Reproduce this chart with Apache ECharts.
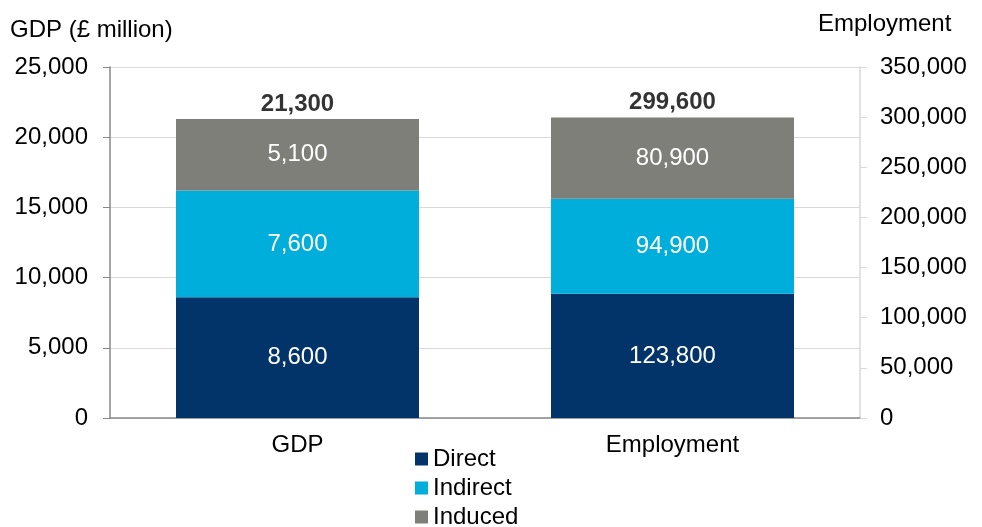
<!DOCTYPE html>
<html>
<head>
<meta charset="utf-8">
<script src="https://cdn.jsdelivr.net/npm/echarts@6/dist/echarts.min.js"></script>
<style>
html,body{margin:0;padding:0;background:#fff;}
#chart{width:982px;height:527px;}
</style>
</head>
<body>
<div id="chart"></div>
<script>
// Economic contribution: GDP (left axis, £ million) and employment (right axis, jobs)
const categories = ['GDP', 'Employment'];
const components = ['Direct', 'Indirect', 'Induced'];
const gdpValues = [8600, 7600, 5100];          // Direct, Indirect, Induced
const employmentValues = [123800, 94900, 80900]; // Direct, Indirect, Induced
const gdpTotal = 21300;
const employmentTotal = 299600;
const gdpTicks = { min: 0, max: 25000, interval: 5000 };
const employmentTicks = { min: 0, max: 350000, interval: 50000 };

const colors = { Direct: '#02346a', Indirect: '#00aedb', Induced: '#7f7f79' };
const FONT = 'Liberation Sans, Arial, sans-serif';
const FS = 24;
const fmt = v => Number(v).toLocaleString('en-GB');

const series = [];
components.forEach((name, i) => {
  // GDP column, measured on the left axis
  series.push({
    name, type: 'bar', stack: 'gdp', yAxisIndex: 0,
    barWidth: 243, barGap: '-100%',
    itemStyle: { color: colors[name] },
    label: { show: true, position: 'inside', color: '#fff', fontSize: FS, fontFamily: FONT,
             formatter: p => fmt(p.value) },
    data: [gdpValues[i], '-']
  });
  // Employment column, measured on the right axis
  series.push({
    name, type: 'bar', stack: 'emp', yAxisIndex: 1,
    barWidth: 243, barGap: '-100%',
    itemStyle: { color: colors[name] },
    label: { show: true, position: 'inside', color: '#fff', fontSize: FS, fontFamily: FONT,
             formatter: p => fmt(p.value) },
    data: ['-', employmentValues[i]]
  });
});
// Totals above each column
const totalLabel = { show: true, position: 'top', distance: 3, color: '#000', fontSize: FS,
                     fontWeight: 'bold', fontFamily: FONT, formatter: p => fmt(p.value[1]) };
series.push({ type: 'scatter', yAxisIndex: 0, symbolSize: 0, silent: true,
              label: totalLabel, data: [[categories[0], gdpTotal]] });
series.push({ type: 'scatter', yAxisIndex: 1, symbolSize: 0, silent: true,
              label: totalLabel, data: [[categories[1], employmentTotal]] });

const chart = echarts.init(document.getElementById('chart'));
chart.setOption({
  animation: false,
  textStyle: { fontFamily: FONT },
  title: [
    { text: 'GDP (£ million)', left: 5, top: 13,
      textStyle: { fontSize: FS, fontWeight: 'normal', color: '#000', fontFamily: FONT } },
    { text: 'Employment', left: 813, top: 7,
      textStyle: { fontSize: FS, fontWeight: 'normal', color: '#000', fontFamily: FONT } }
  ],
  legend: {
    data: components, orient: 'vertical', left: 415, top: 447, height: 120, padding: 0,
    itemWidth: 13, itemHeight: 13, itemGap: 5, icon: 'rect',
    textStyle: { fontSize: FS, color: '#000', fontFamily: FONT }
  },
  grid: { left: 110, right: 122, top: 67, bottom: 109 },
  xAxis: {
    type: 'category', data: categories,
    axisLine: { lineStyle: { color: '#898989', width: 1.5 } },
    axisTick: { show: false },
    axisLabel: { fontSize: FS, color: '#000', margin: 15, fontFamily: FONT }
  },
  yAxis: [
    {
      type: 'value', position: 'left', ...gdpTicks,
      axisLine: { show: true, lineStyle: { color: '#898989', width: 1.5 } },
      axisTick: { show: true, length: 7, lineStyle: { color: '#898989' } },
      splitLine: { lineStyle: { color: '#d9d9d9' } },
      axisLabel: { fontSize: FS, color: '#000', margin: 22, fontFamily: FONT, formatter: fmt }
    },
    {
      type: 'value', position: 'right', ...employmentTicks,
      axisLine: { show: true, lineStyle: { color: '#d9d9d9', width: 1.5 } },
      axisTick: { show: true, length: 7, lineStyle: { color: '#d9d9d9' } },
      splitLine: { show: false },
      axisLabel: { fontSize: FS, color: '#000', margin: 20, fontFamily: FONT, formatter: fmt }
    }
  ],
  series
});
</script>
</body>
</html>
